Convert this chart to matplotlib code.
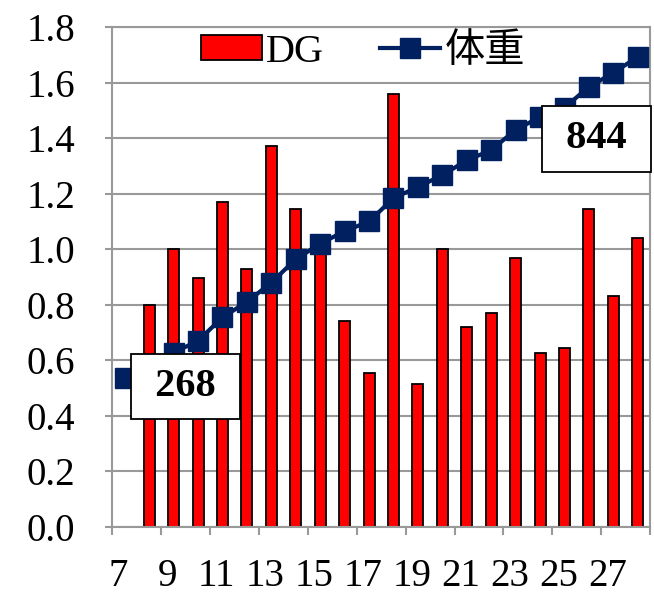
import matplotlib.pyplot as plt
import numpy as np

plt.rcParams['font.family'] = ['Liberation Serif', 'Noto Sans CJK SC']

# datos
dias = list(range(7, 29))
dg = [np.nan, 0.80, 1.00, 0.895, 1.17, 0.93, 1.37, 1.145, 0.99, 0.74, 0.556,
      1.56, 0.516, 1.00, 0.72, 0.77, 0.97, 0.628, 0.643, 1.144, 0.83, 1.04]
peso = [0.538, 0.585, 0.628, 0.67, 0.755, 0.81, 0.88, 0.964, 1.02, 1.065, 1.10,
        1.184, 1.224, 1.267, 1.32, 1.357, 1.43, 1.476, 1.51, 1.585, 1.635, 1.693]
etiquetas = [str(d) for d in range(7, 29, 2)]
notas = ['268', '844']

fig = plt.figure(figsize=(6.54, 5.94), dpi=100)
ax = fig.add_axes([0.172, 0.1128, 0.822, 0.8417])

gris = '#999999'
barras = ax.bar(dias, dg, width=0.45, color='#ff0000', edgecolor='black', linewidth=1.3,
                label='DG', zorder=2)
linea, = ax.plot(dias, peso, color='#002060', linewidth=3, marker='s', markersize=14,
                 label='体重', zorder=3)

ax.set_xlim(6.5, 28.5)
ax.set_ylim(0, 1.8)
ax.set_yticks(np.arange(0, 1.81, 0.2))
ax.set_yticklabels([f'{v:.1f}' for v in np.arange(0, 1.81, 0.2)])
ax.yaxis.grid(True, color=gris, linewidth=1.5, zorder=0)
ax.set_axisbelow(True)

# marcas en los limites de categoria, etiquetas en los dias impares
ax.set_xticks(np.arange(6.5, 28.6, 2))
ax.set_xticklabels([])
ax.set_xticks([d - 0.25 for d in range(7, 29, 2)], minor=True)
ax.set_xticklabels(etiquetas, minor=True)
ax.tick_params(axis='x', which='major', length=6, width=1.5, color=gris)
ax.tick_params(axis='x', which='minor', length=0, labelsize=28, pad=22)
ax.tick_params(axis='y', length=5, width=1.5, color=gris, labelsize=28, pad=22)

for s in ax.spines.values():
    s.set_color(gris)
    s.set_linewidth(1.5)

caja = dict(boxstyle='square,pad=0.35', facecolor='white', edgecolor='black', linewidth=1.3)
ax.text(9.49, 0.507, ' ' + notas[0] + ' ', fontsize=29, fontweight='bold',
        ha='center', va='center', bbox=caja, zorder=5)
ax.text(26.3, 1.397, ' ' + notas[1] + ' ', fontsize=29, fontweight='bold',
        ha='center', va='center', bbox=caja, zorder=5, clip_on=False)

ax.legend([barras, linea], ['DG', '体重'], loc='center', bbox_to_anchor=(0.466, 0.95),
          ncol=2, frameon=False, fontsize=29, handlelength=1.5, handleheight=0.6,
          handletextpad=0.1, columnspacing=1.4, borderaxespad=0)

plt.savefig('out.png', dpi=100)
